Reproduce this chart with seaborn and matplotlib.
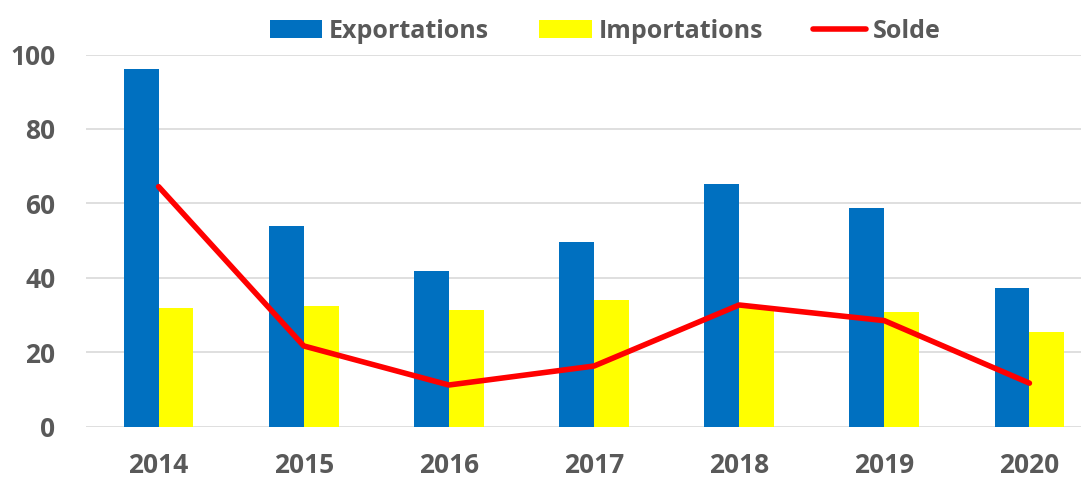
import matplotlib
matplotlib.use("Agg")
import matplotlib.pyplot as plt
import seaborn as sns
import pandas as pd
import numpy as np

# données
annees = ["2014", "2015", "2016", "2017", "2018", "2019", "2020"]
exportations = [96.0, 53.9, 41.8, 49.7, 65.1, 58.7, 37.2]
importations = [31.9, 32.4, 31.3, 34.0, 32.4, 30.8, 25.4]
solde = [64.5, 21.7, 11.2, 16.3, 32.7, 28.5, 11.7]

df = pd.DataFrame({
    "annee": annees * 2,
    "valeur": exportations + importations,
    "serie": ["Exportations"] * len(annees) + ["Importations"] * len(annees),
})

sns.set_style("white")
plt.rcParams["font.family"] = ["Open Sans", "DejaVu Sans"]
gris = "#595959"

fig = plt.figure(figsize=(10.81, 4.79), dpi=100)
ax = fig.add_axes([86 / 1081, 52.3 / 479, 1016 / 1081, 372.2 / 479])

sns.barplot(data=df, x="annee", y="valeur", hue="serie",
            palette=["#0070C0", "#FFFF00"], saturation=1, width=0.48,
            linewidth=0, ax=ax)
sns.lineplot(x=np.arange(len(annees)), y=solde, color="#FF0000",
             linewidth=3.2, label="Solde", ax=ax)

ax.set_xlim(-0.5, len(annees) - 0.5)
ax.set_ylim(0, 100)
ax.set_yticks(range(0, 101, 20))
ax.grid(axis="y", color="#D9D9D9", linewidth=1.2)
ax.set_axisbelow(True)
for s in ax.spines.values():
    s.set_visible(False)
ax.set_xlabel("")
ax.set_ylabel("")
ax.tick_params(axis="y", length=0, pad=22, labelsize=19, labelcolor=gris)
ax.tick_params(axis="x", length=0, pad=18, labelsize=19, labelcolor=gris)
for t in ax.get_xticklabels() + ax.get_yticklabels():
    t.set_fontweight("bold")

handles, labels = ax.get_legend_handles_labels()
ax.get_legend().remove()
handles[2].set_linewidth(4)
handles[2].set_solid_capstyle("round")
leg = fig.legend(handles, labels, loc="center", bbox_to_anchor=(605 / 1081, 1 - 31 / 479),
                 ncol=3, frameon=False, fontsize=18, handlelength=2.1,
                 handleheight=0.7, handletextpad=0.28, columnspacing=2.0)
for t in leg.get_texts():
    t.set_color(gris)
    t.set_fontweight("bold")

fig.savefig("out.png", dpi=100)
plt.close(fig)
